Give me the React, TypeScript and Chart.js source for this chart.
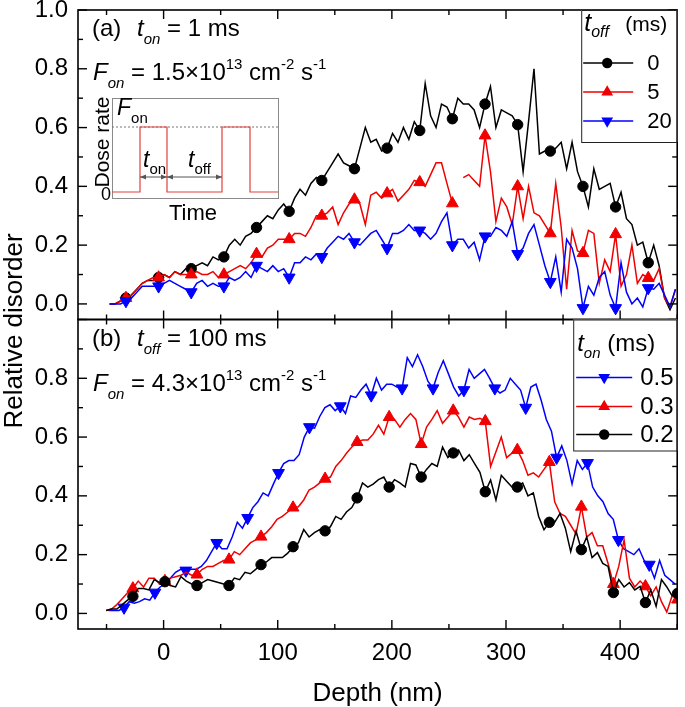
import React, { useEffect, useRef } from 'react';
import { Chart, registerables } from 'chart.js';

Chart.register(...registerables);

const FONT = "'Liberation Sans', Arial, Helvetica, sans-serif";

// ---------- axes ----------
const X_MIN = -75;
const X_MAX = 450;
const Y_MIN = -0.053;
const Y_MAX = 1.0;
const X_TICKS = [0, 100, 200, 300, 400];
const Y_TICKS_TOP = [0, 0.2, 0.4, 0.6, 0.8, 1.0];
const Y_TICKS_BOT = [0, 0.2, 0.4, 0.6, 0.8];

// ---------- legend labels ----------
const TOFF_LABELS = ['0', '5', '20'];
const TON_LABELS = ['0.5', '0.3', '0.2'];

// ---------- depth sampling (nm) ----------
const TOP_DEPTH_START = -47.3;
const TOP_DEPTH_STEP = 4.767;
const BOT05_DEPTH_START = -48.2;
const BOT05_DEPTH_STEP = 4.512;
const BOT0302_DEPTH_START = -50.3;
const BOT0302_DEPTH_STEP = 4.678;

// ---------- (a) t_on = 1 ms, series by t_off ----------
const TOP_TOFF0 = [
  0.00, 0.00, 0.01, 0.02, 0.03, 0.05, 0.07, 0.08, 0.08,
  0.09, 0.10, 0.09, 0.11, 0.10, 0.12,
  0.12, 0.13, 0.14, 0.13, 0.16, 0.15,
  0.16, 0.20, 0.22, 0.20, 0.23, 0.24,
  0.26, 0.28, 0.30, 0.29, 0.32, 0.34,
  0.315, 0.36, 0.39, 0.37, 0.41, 0.43,
  0.42, 0.45, 0.48, 0.51, 0.48, 0.47,
  0.46, 0.53, 0.60, 0.55, 0.56, 0.52,
  0.53, 0.58, 0.55, 0.60, 0.56, 0.62,
  0.59, 0.75, 0.64, 0.60, 0.68, 0.67,
  0.63, 0.70, 0.68, 0.68, 0.66, 0.60,
  0.68, 0.74, 0.60, 0.66, 0.65, 0.64,
  0.61, 0.45, 0.62, 0.80, 0.51, 0.52,
  0.52, 0.53, 0.55, 0.46, 0.55, 0.45,
  0.40, 0.33, 0.46, 0.39, 0.40, 0.41,
  0.33, 0.38, 0.29, 0.27, 0.20, 0.21,
  0.14, 0.20, 0.13, 0.02, -0.02, 0.02,
];
const TOP_TOFF5 = [
  0.00, 0.00, 0.01, 0.02, 0.03, 0.05, 0.07, 0.08, 0.09,
  0.09, 0.10, 0.09, 0.11, 0.10, 0.10,
  0.10, 0.11, 0.10, 0.10, 0.11, 0.09,
  0.10, 0.11, 0.12, 0.13, 0.12, 0.14,
  0.17, 0.16, 0.19, 0.20, 0.22, 0.22,
  0.22, 0.24, 0.24, 0.23, 0.26, 0.30,
  0.30, 0.31, 0.33, 0.27, 0.31, 0.34,
  0.355, 0.34, 0.27, 0.37, 0.38, 0.36,
  0.376, 0.39, 0.35, 0.37, 0.39, 0.42,
  0.414, 0.40, 0.44, 0.48, 0.48, 0.41,
  0.342, null, 0.43, 0.44, 0.42, 0.40,
  0.573, 0.45, 0.28, 0.36, 0.33, 0.27,
  0.40, 0.29, 0.40, 0.31, 0.30, 0.27,
  0.24, 0.41, 0.26, 0.05, 0.25, 0.18,
  0.173, 0.25, 0.24, 0.07, 0.15, 0.11,
  0.237, 0.06, 0.10, 0.20, 0.07, 0.10,
  0.088, 0.08, 0.12, 0.02, -0.01, 0.05,
];
const TOP_TOFF20 = [
  0.00, 0.00, 0.00, 0.01, 0.02, 0.04, 0.06, 0.06, 0.06,
  0.06, 0.07, 0.08, 0.07, 0.06, 0.05,
  0.04, 0.07, 0.08, 0.06, 0.07, 0.06,
  0.06, 0.09, 0.08, 0.09, 0.11, 0.09,
  0.13, 0.12, 0.11, 0.13, 0.11, 0.12,
  0.09, 0.14, 0.14, 0.16, 0.15, 0.17,
  0.16, 0.19, 0.21, 0.23, 0.22, 0.24,
  0.21, 0.20, 0.22, 0.24, 0.25, 0.22,
  0.19, 0.24, 0.24, 0.25, 0.27, 0.25,
  0.25, 0.24, 0.22, 0.24, 0.28, 0.31,
  0.20, 0.22, 0.22, 0.19, 0.21, 0.15,
  0.23, 0.23, 0.26, 0.25, 0.23, 0.28,
  0.17, 0.19, 0.24, 0.27, 0.20, 0.13,
  0.075, 0.16, 0.04, 0.22, 0.19, 0.12,
  -0.014, 0.06, 0.03, 0.09, 0.11, 0.03,
  -0.014, 0.14, 0.04, 0.00, 0.02, -0.01,
  0.054, 0.05, 0.07, 0.03, -0.01, 0.05,
];

// ---------- (b) t_off = 100 ms, series by t_on ----------
const BOT_TON05 = [
  0.01, 0.01, 0.01, 0.02, 0.04, 0.035, 0.04, 0.05, 0.045,
  0.071, 0.09, 0.10, 0.12, 0.14, 0.15,
  0.146, 0.15, 0.15, 0.16, 0.18, 0.21,
  0.24, 0.22, 0.22, 0.26, 0.31, 0.29,
  0.325, 0.36, 0.38, 0.41, 0.40, 0.44,
  0.478, 0.51, 0.52, 0.52, 0.54, 0.60,
  0.634, 0.63, 0.67, 0.70, 0.71, 0.69,
  0.705, 0.68, 0.74, 0.735, 0.76, 0.78,
  0.742, 0.80, 0.76, 0.78, 0.78, 0.77,
  0.766, 0.87, 0.84, 0.88, 0.84, 0.79,
  0.766, 0.82, 0.86, 0.815, 0.77, 0.74,
  0.76, 0.83, 0.80, 0.815, 0.83, 0.80,
  0.766, 0.75, 0.76, 0.80, 0.78, 0.76,
  0.70, 0.77, 0.78, 0.725, 0.66, 0.62,
  0.53, 0.57, 0.52, 0.44, 0.52, 0.49,
  0.512, 0.43, 0.40, 0.38, 0.34, 0.32,
  0.25, 0.22, 0.21, 0.20, 0.22, 0.18,
  0.166, 0.12, 0.18, 0.13, 0.115, 0.10,
];
const BOT_TON03 = [
  0.01, 0.015, 0.03, 0.05, 0.07,
  0.085, 0.11, 0.09, 0.12, 0.12, 0.10,
  0.11, 0.12, 0.125, 0.13, 0.14, 0.13,
  0.132, 0.15, 0.16, 0.16, 0.17, 0.18,
  0.183, 0.21, 0.20, 0.22, 0.24, 0.25,
  0.261, 0.275, 0.295, 0.32, 0.33, 0.345,
  0.36, 0.363, 0.386, 0.42, 0.43, 0.444,
  0.458, 0.464, 0.50, 0.52, 0.545, 0.566,
  0.583, 0.59, 0.59, 0.61, 0.64, 0.61,
  0.668, 0.66, 0.634, 0.66, 0.68, 0.66,
  0.576, 0.634, 0.66, 0.69, 0.647, 0.668,
  0.69, 0.668, 0.634, 0.668, 0.66, 0.664,
  0.654, 0.50, 0.55, 0.60, 0.53, 0.545,
  0.556, 0.52, 0.47, 0.478, 0.464, 0.49,
  0.515, 0.38, 0.34, 0.33, 0.30, 0.27,
  0.363, 0.26, 0.275, 0.23, 0.23, 0.17,
  0.10, 0.16, 0.25, 0.12, 0.09, 0.11,
  0.092, 0.06, 0.09, 0.04, 0.005, 0.06,
  0.047,
];
const BOT_TON02 = [
  0.01, 0.015, 0.015, 0.03, 0.045,
  0.058, 0.085, 0.085, 0.08, 0.115, 0.105,
  0.108, 0.095, 0.09, 0.125, 0.11, 0.10,
  0.095, 0.105, 0.115, 0.11, 0.105, 0.10,
  0.095, 0.12, 0.115, 0.14, 0.135, 0.15,
  0.166, 0.175, 0.19, 0.19, 0.19, 0.205,
  0.227, 0.24, 0.285, 0.26, 0.275, 0.285,
  0.281, 0.295, 0.33, 0.32, 0.345, 0.36,
  0.393, 0.444, 0.43, 0.44, 0.455, 0.464,
  0.43, 0.455, 0.444, 0.43, 0.51, 0.505,
  0.464, 0.49, 0.51, 0.50, 0.566, 0.53,
  0.546, 0.556, 0.52, 0.54, 0.51, 0.48,
  0.414, 0.454, 0.386, 0.47, 0.45, 0.43,
  0.43, 0.444, 0.40, 0.41, 0.33, 0.285,
  0.31, 0.31, 0.34, 0.29, 0.21, 0.28,
  0.217, 0.26, 0.19, 0.207, 0.17, 0.16,
  0.071, 0.115, 0.09, 0.105, 0.08, 0.092,
  0.037, 0.08, 0.024, 0.115, 0.09, 0.06,
  0.068,
];

// ---------- styles ----------
const BLACK = '#000000';
const RED = '#f00000';
const BLUE = '#0000ff';
const MARKER_EVERY = 6;

function toPoints(start: number, step: number, vals: (number | null)[]) {
  return vals.map((v, i) => ({ x: +(start + step * i).toFixed(3), y: v }));
}

function makeDataset(
  label: string,
  axis: string,
  start: number,
  step: number,
  vals: (number | null)[],
  color: string,
  shape: 'circle' | 'up' | 'down',
  markerOffset: number,
  order: number
) {
  const r = shape === 'circle' ? 5.2 : 6.8;
  return {
    label,
    data: toPoints(start, step, vals),
    yAxisID: axis,
    order,
    borderColor: color,
    backgroundColor: color,
    borderWidth: 1.5,
    tension: 0,
    spanGaps: false,
    pointStyle: shape === 'circle' ? 'circle' : 'triangle',
    rotation: shape === 'down' ? 180 : 0,
    pointRotation: shape === 'down' ? 180 : 0,
    pointBackgroundColor: color,
    pointBorderColor: color,
    pointBorderWidth: 1,
    pointRadius: (c: any) => (c.dataIndex % MARKER_EVERY === markerOffset ? r : 0),
    pointHoverRadius: 0,
  };
}

type Seg = { t: string; it?: boolean; sub?: boolean; sup?: boolean };

function rich(ctx: CanvasRenderingContext2D, x: number, y: number, segs: Seg[], size: number, small: number, subDy: number, supDy: number) {
  let cx = x;
  ctx.textAlign = 'left';
  ctx.textBaseline = 'alphabetic';
  for (const s of segs) {
    const fs = s.sub || s.sup ? small : size;
    ctx.font = `${s.it ? 'italic ' : ''}${fs}px ${FONT}`;
    ctx.fillText(s.t, cx, y + (s.sub ? subDy : 0) - (s.sup ? supDy : 0));
    cx += ctx.measureText(s.t).width;
  }
  return cx;
}

function seg(ctx: CanvasRenderingContext2D, x0: number, y0: number, x1: number, y1: number) {
  ctx.beginPath();
  ctx.moveTo(x0, y0);
  ctx.lineTo(x1, y1);
  ctx.stroke();
}

function drawMarker(ctx: CanvasRenderingContext2D, shape: string, cx: number, cy: number, color: string) {
  ctx.fillStyle = color;
  ctx.beginPath();
  if (shape === 'circle') {
    ctx.arc(cx, cy, 5.2, 0, Math.PI * 2);
  } else {
    const r = 6.8;
    const base = shape === 'down' ? Math.PI : 0;
    for (let k = 0; k < 3; k++) {
      const a = base + (k * 2 * Math.PI) / 3;
      const px = cx + Math.sin(a) * r;
      const py = cy - Math.cos(a) * r;
      if (k === 0) ctx.moveTo(px, py);
      else ctx.lineTo(px, py);
    }
    ctx.closePath();
  }
  ctx.fill();
}

function arrowHead(ctx: CanvasRenderingContext2D, x: number, y: number, dir: number) {
  ctx.beginPath();
  ctx.moveTo(x, y);
  ctx.lineTo(x - dir * 6, y - 2.5);
  ctx.lineTo(x - dir * 6, y + 2.5);
  ctx.closePath();
  ctx.fill();
}

const decorPlugin = {
  id: 'decor',
  afterDatasetsDraw(chart: any) {
    const ctx: CanvasRenderingContext2D = chart.ctx;
    const xs = chart.scales.x;
    const yT = chart.scales.yTop;
    const yB = chart.scales.yBot;
    const L = chart.chartArea.left;
    const R = chart.chartArea.right;
    ctx.save();

    // ---------- inset schematic (panel a) ----------
    const T = yT.top;
    const ix0 = L + 34, iy0 = T + 88, ix1 = L + 200, iy1 = T + 188;
    const hi = T + 117, lo = T + 182;
    ctx.fillStyle = '#ffffff';
    ctx.fillRect(ix0, iy0, ix1 - ix0, iy1 - iy0);
    ctx.strokeStyle = '#8a8a8a';
    ctx.lineWidth = 1;
    ctx.strokeRect(ix0 + 0.5, iy0 + 0.5, ix1 - ix0, iy1 - iy0);
    ctx.setLineDash([2, 2]);
    ctx.strokeStyle = '#777777';
    seg(ctx, ix0, hi, ix1, hi);
    ctx.setLineDash([]);
    const e1 = L + 62, e2 = L + 89, e3 = L + 144, e4 = L + 172;
    ctx.strokeStyle = '#e2403a';
    ctx.lineWidth = 1.2;
    ctx.beginPath();
    ctx.moveTo(ix0, lo);
    ctx.lineTo(e1, lo); ctx.lineTo(e1, hi); ctx.lineTo(e2, hi); ctx.lineTo(e2, lo);
    ctx.lineTo(e3, lo); ctx.lineTo(e3, hi); ctx.lineTo(e4, hi); ctx.lineTo(e4, lo);
    ctx.lineTo(ix1, lo);
    ctx.stroke();
    // arrows
    const ay = T + 167;
    ctx.strokeStyle = '#555555';
    ctx.fillStyle = '#555555';
    ctx.lineWidth = 1;
    seg(ctx, e1, ay, e3, ay);
    arrowHead(ctx, e1, ay, -1);
    arrowHead(ctx, e2, ay, 1);
    arrowHead(ctx, e2, ay, -1);
    arrowHead(ctx, e3, ay, 1);
    ctx.fillStyle = '#000000';
    rich(ctx, ix0 + 5, T + 105, [{ t: 'F', it: true }, { t: 'on', sub: true }], 23, 15, 8, 0);
    rich(ctx, e1 + 3, T + 157, [{ t: 't', it: true }, { t: 'on', sub: true }], 23, 15, 7, 0);
    rich(ctx, e2 + 21, T + 157, [{ t: 't', it: true }, { t: 'off', sub: true }], 23, 15, 7, 0);
    ctx.font = `18px ${FONT}`;
    ctx.textAlign = 'right';
    ctx.textBaseline = 'middle';
    ctx.fillText('0', ix0 - 1, lo + 3);
    ctx.save();
    ctx.translate(ix0 - 3, (iy0 + lo) / 2 - 3);
    ctx.rotate(-Math.PI / 2);
    ctx.font = `21px ${FONT}`;
    ctx.textAlign = 'center';
    ctx.textBaseline = 'alphabetic';
    ctx.fillText('Dose rate', 0, 0);
    ctx.restore();
    ctx.font = `22px ${FONT}`;
    ctx.textAlign = 'center';
    ctx.textBaseline = 'alphabetic';
    ctx.fillText('Time', (ix0 + ix1) / 2 - 2, T + 210);

    // ---------- frames and inward ticks ----------
    ctx.strokeStyle = '#000000';
    for (const ys of [yT, yB]) {
      const top = ys.top, bot = ys.bottom;
      ctx.lineWidth = 1.6;
      ctx.strokeRect(L, top, R - L, bot - top);
      ctx.lineWidth = 1.4;
      for (let v = -50; v <= 450; v += 50) {
        const px = xs.getPixelForValue(v);
        if (px < L || px > R) continue;
        const len = v % 100 === 0 ? 9 : 5;
        seg(ctx, px, bot, px, bot - len);
        seg(ctx, px, top, px, top + len);
      }
      for (let k = 0; k <= 10; k++) {
        const py = ys.getPixelForValue(k / 10);
        if (py < top - 0.5 || py > bot + 0.5) continue;
        const len = k % 2 === 0 ? 9 : 5;
        seg(ctx, L, py, L + len, py);
        seg(ctx, R, py, R - len, py);
      }
    }

    // ---------- x tick labels (from the x scale's ticks) ----------
    ctx.fillStyle = '#000000';
    ctx.font = `24px ${FONT}`;
    ctx.textAlign = 'center';
    ctx.textBaseline = 'alphabetic';
    for (const t of xs.ticks) {
      ctx.fillText(String(t.value), xs.getPixelForValue(t.value), yB.bottom + 31);
    }

    // ---------- legends ----------
    const legend = (x0: number, y0: number, x1: number, y1: number) => {
      ctx.fillStyle = '#ffffff';
      ctx.fillRect(x0, y0, x1 - x0, y1 - y0);
      ctx.strokeStyle = '#222222';
      ctx.lineWidth = 1;
      ctx.strokeRect(x0 + 0.5, y0 + 0.5, x1 - x0 - 1, y1 - y0);
    };
    // top legend
    legend(R - 96, yT.top, R, yT.top + 132);
    ctx.fillStyle = '#000000';
    rich(ctx, R - 93, yT.top + 21, [{ t: 't', it: true }, { t: 'off', it: true, sub: true }], 25, 16, 6, 0);
    ctx.font = `21px ${FONT}`;
    ctx.fillText('(ms)', R - 52, yT.top + 21);
    const topRows = [
      { y: yT.top + 53, c: BLACK, s: 'circle' },
      { y: yT.top + 82, c: RED, s: 'up' },
      { y: yT.top + 111, c: BLUE, s: 'down' },
    ];
    topRows.forEach((row, i) => {
      ctx.strokeStyle = row.c;
      ctx.lineWidth = 1.5;
      seg(ctx, R - 94, row.y, R - 44, row.y);
      drawMarker(ctx, row.s, R - 70, row.y, row.c);
      ctx.fillStyle = '#000000';
      ctx.font = `22px ${FONT}`;
      ctx.textAlign = 'left';
      ctx.textBaseline = 'middle';
      ctx.fillText(TOFF_LABELS[i], R - 30, row.y + 1);
    });
    // bottom legend
    legend(R - 104, yB.top, R, yB.top + 131);
    ctx.fillStyle = '#000000';
    rich(ctx, R - 100, yB.top + 31, [{ t: 't', it: true }, { t: 'on', it: true, sub: true }], 24, 15, 7, 0);
    ctx.font = `24px ${FONT}`;
    ctx.fillText('(ms)', R - 70, yB.top + 31);
    const botRows = [
      { y: yB.top + 58, c: BLUE, s: 'down' },
      { y: yB.top + 87, c: RED, s: 'up' },
      { y: yB.top + 115, c: BLACK, s: 'circle' },
    ];
    botRows.forEach((row, i) => {
      ctx.strokeStyle = row.c;
      ctx.lineWidth = 1.5;
      seg(ctx, R - 101, row.y, R - 45, row.y);
      drawMarker(ctx, row.s, R - 73, row.y, row.c);
      ctx.fillStyle = '#000000';
      ctx.font = `24px ${FONT}`;
      ctx.textAlign = 'left';
      ctx.textBaseline = 'middle';
      ctx.fillText(TON_LABELS[i], R - 37, row.y + 1);
    });

    // ---------- panel annotations ----------
    ctx.fillStyle = '#000000';
    ctx.font = `24px ${FONT}`;
    ctx.textAlign = 'left';
    ctx.textBaseline = 'alphabetic';
    ctx.fillText('(a)', L + 14, yT.top + 26);
    rich(ctx, L + 59, yT.top + 26, [{ t: 't', it: true }, { t: 'on', it: true, sub: true }, { t: ' = 1 ms' }], 24, 15, 8, 0);
    rich(ctx, L + 15, yT.top + 70, [
      { t: 'F', it: true }, { t: 'on', it: true, sub: true }, { t: ' = 1.5\u00d710' }, { t: '13', sup: true },
      { t: ' cm' }, { t: '-2', sup: true }, { t: ' s' }, { t: '-1', sup: true },
    ], 24, 15, 8, 11);
    ctx.font = `24px ${FONT}`;
    ctx.fillText('(b)', L + 14, yB.top + 26);
    rich(ctx, L + 59, yB.top + 26, [{ t: 't', it: true }, { t: 'off', it: true, sub: true }, { t: ' = 100 ms' }], 24, 15, 8, 0);
    rich(ctx, L + 15, yB.top + 71, [
      { t: 'F', it: true }, { t: 'on', it: true, sub: true }, { t: ' = 4.3\u00d710' }, { t: '13', sup: true },
      { t: ' cm' }, { t: '-2', sup: true }, { t: ' s' }, { t: '-1', sup: true },
    ], 24, 15, 8, 11);

    // ---------- axis titles ----------
    ctx.font = `26px ${FONT}`;
    ctx.textAlign = 'center';
    ctx.textBaseline = 'alphabetic';
    ctx.fillText('Depth (nm)', (L + R) / 2, 701);
    ctx.save();
    ctx.translate(22, 331);
    ctx.rotate(-Math.PI / 2);
    ctx.fillText('Relative disorder', 0, 0);
    ctx.restore();

    ctx.restore();
  },
};

function yAxis(ticks: number[]) {
  return {
    type: 'linear',
    position: 'left',
    stack: 'panels',
    stackWeight: 1,
    offset: false,
    min: Y_MIN,
    max: Y_MAX,
    grid: { display: false, drawTicks: false },
    border: { display: false },
    ticks: {
      font: { family: FONT, size: 24 },
      color: '#000',
      padding: 10,
      autoSkip: false,
      callback: (v: any) => Number(v).toFixed(1),
    },
    afterBuildTicks: (s: any) => {
      s.ticks = ticks.map((v) => ({ value: v }));
    },
    afterFit: (s: any) => {
      s.width = 78;
      s.paddingTop = 0;
      s.paddingBottom = 0;
    },
  };
}

export default function App() {
  const ref = useRef<HTMLCanvasElement>(null);
  useEffect(() => {
    if (!ref.current) return;
    const datasets = [
      makeDataset('toff 20', 'yTop', TOP_DEPTH_START, TOP_DEPTH_STEP, TOP_TOFF20, BLUE, 'down', 3, 0),
      makeDataset('toff 5', 'yTop', TOP_DEPTH_START, TOP_DEPTH_STEP, TOP_TOFF5, RED, 'up', 3, 1),
      makeDataset('toff 0', 'yTop', TOP_DEPTH_START, TOP_DEPTH_STEP, TOP_TOFF0, BLACK, 'circle', 3, 2),
      makeDataset('ton 0.2', 'yBot', BOT0302_DEPTH_START, BOT0302_DEPTH_STEP, BOT_TON02, BLACK, 'circle', 5, 3),
      makeDataset('ton 0.3', 'yBot', BOT0302_DEPTH_START, BOT0302_DEPTH_STEP, BOT_TON03, RED, 'up', 5, 4),
      makeDataset('ton 0.5', 'yBot', BOT05_DEPTH_START, BOT05_DEPTH_STEP, BOT_TON05, BLUE, 'down', 3, 5),
    ];
    const chart = new Chart(ref.current, {
      type: 'line',
      data: { datasets } as any,
      options: {
        responsive: false,
        devicePixelRatio: 1,
        animation: false,
        events: [],
        layout: { padding: { top: 10, right: 2, bottom: 0, left: 0 } },
        plugins: { legend: { display: false }, tooltip: { enabled: false } },
        scales: {
          x: {
            type: 'linear',
            position: 'bottom',
            min: X_MIN,
            max: X_MAX,
            grid: { display: false, drawTicks: false },
            border: { display: false },
            ticks: { display: false, autoSkip: false },
            afterBuildTicks: (s: any) => {
              s.ticks = X_TICKS.map((v) => ({ value: v }));
            },
            afterFit: (s: any) => {
              s.height = 78;
              s.paddingLeft = 0;
              s.paddingRight = 0;
            },
          },
          yBot: yAxis(Y_TICKS_BOT),
          yTop: yAxis(Y_TICKS_TOP),
        } as any,
      },
      plugins: [decorPlugin],
    } as any);
    return () => chart.destroy();
  }, []);
  return (
    <div style={{ position: 'absolute', left: 0, top: 0, width: 685, height: 707, background: '#ffffff' }}>
      <canvas ref={ref} width={685} height={707} style={{ display: 'block', width: 685, height: 707 }} />
    </div>
  );
}
